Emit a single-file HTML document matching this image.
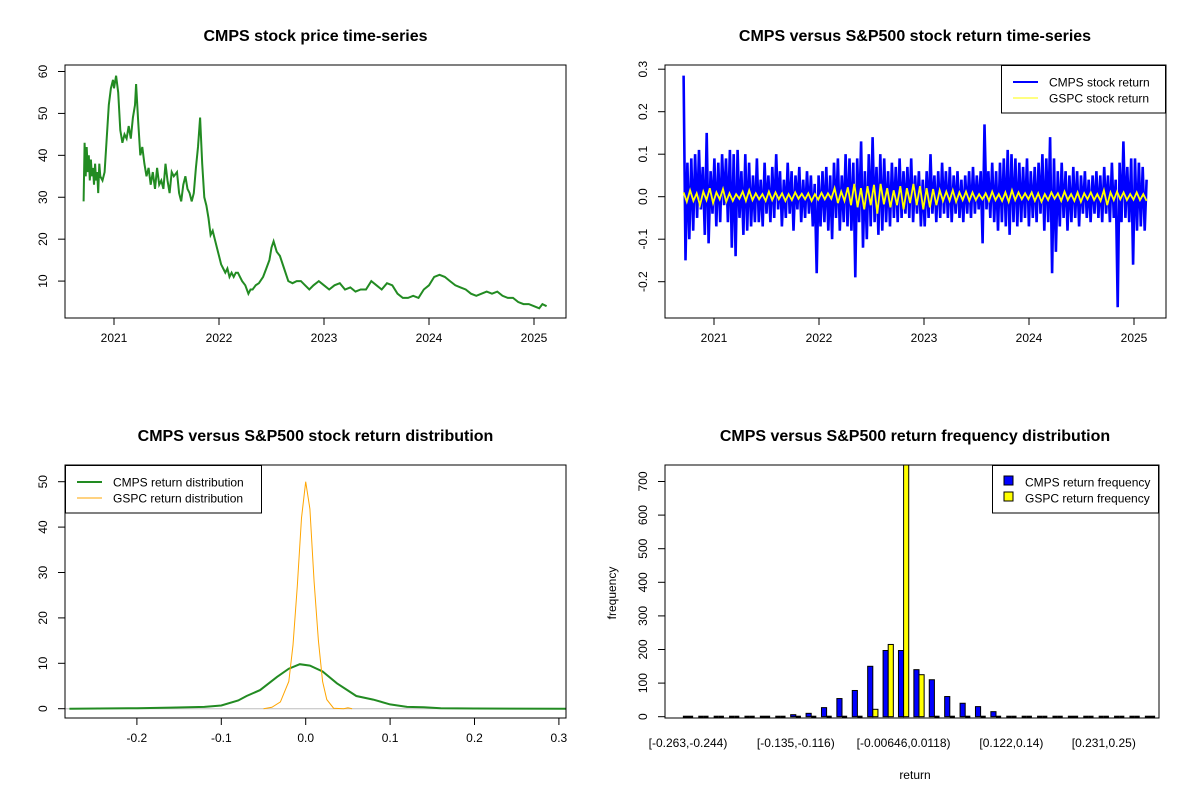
<!DOCTYPE html>
<html><head><meta charset="utf-8"><style>
html,body{margin:0;padding:0;background:#fff;}
svg{display:block;font-family:"Liberation Sans",Arial,sans-serif;}
</style></head><body>
<svg id="chart" width="1200" height="800" viewBox="0 0 1200 800" xmlns="http://www.w3.org/2000/svg"></svg>
<script>
// ---------- data ----------
const priceYears = [2020.71,2020.72,2020.73,2020.74,2020.75,2020.76,2020.77,2020.78,2020.79,2020.80,2020.81,2020.82,2020.83,2020.84,2020.85,2020.86,2020.87,2020.89,2020.91,2020.93,2020.95,2020.97,2020.99,2021.0,2021.02,2021.04,2021.06,2021.08,2021.10,2021.12,2021.14,2021.16,2021.18,2021.20,2021.21,2021.23,2021.25,2021.27,2021.29,2021.31,2021.33,2021.35,2021.37,2021.39,2021.41,2021.43,2021.45,2021.47,2021.49,2021.51,2021.53,2021.55,2021.57,2021.60,2021.62,2021.64,2021.66,2021.68,2021.70,2021.72,2021.74,2021.76,2021.78,2021.80,2021.82,2021.84,2021.86,2021.88,2021.90,2021.92,2021.94,2021.96,2021.98,2022.0,2022.02,2022.04,2022.06,2022.08,2022.10,2022.12,2022.14,2022.16,2022.18,2022.20,2022.22,2022.25,2022.28,2022.30,2022.32,2022.35,2022.38,2022.42,2022.45,2022.48,2022.50,2022.52,2022.55,2022.58,2022.62,2022.66,2022.70,2022.74,2022.78,2022.82,2022.86,2022.90,2022.95,2023.0,2023.05,2023.10,2023.15,2023.20,2023.25,2023.30,2023.35,2023.40,2023.45,2023.50,2023.55,2023.60,2023.65,2023.70,2023.75,2023.80,2023.85,2023.90,2023.95,2024.0,2024.05,2024.10,2024.15,2024.20,2024.25,2024.30,2024.35,2024.40,2024.45,2024.50,2024.55,2024.60,2024.65,2024.70,2024.75,2024.80,2024.85,2024.90,2024.95,2025.0,2025.05,2025.08,2025.12];
const priceValues = [29,43,35,42,36,40,34,39,35,37,33,38,34,36,31,38,35,34,36,44,52,56,58,56,59,55,46,43,45,44,47,44,49,52,57,48,40,42,38,35,37,33,36,32,37,33,34,32,38,34,31,36,35,36,31,29,33,35,32,31,29,31,37,42,49,38,30,28,25,21,22,20,18,16,14,13,12,13,11,12,11,12,12,11,10,9,7,8,8,9,9.5,11,13,15,18,19.5,17,16,13,10,9.5,10,10,9,8,9,10,9,8,9,9.5,8,8.5,7.5,8,8,10,9,8,9.5,9,7,6,6,6.5,6,8,9,11,11.5,11,10,9,8.5,8,7,6.5,7,7.5,7,7.5,6.5,6,6,5,4.5,4.5,4,3.5,4.5,4];
const yearTicks = [2021,2022,2023,2024,2025];

const returnStart = 2020.71, returnEnd = 2025.12;
const cmpsReturns = [0.285,-0.15,0.08,-0.1,0.09,-0.08,0.1,-0.05,0.11,-0.03,0.07,-0.09,0.15,-0.11,0.06,-0.04,0.09,-0.07,0.08,-0.06,0.1,-0.02,0.09,-0.06,0.11,-0.12,0.1,-0.14,0.11,-0.05,0.06,-0.09,0.1,-0.08,0.08,-0.07,0.05,-0.06,0.09,-0.06,0.04,-0.07,0.08,-0.04,0.05,-0.06,0.07,-0.05,0.1,-0.03,0.06,-0.07,0.04,-0.05,0.08,-0.04,0.06,-0.08,0.05,-0.03,0.07,-0.06,0.04,-0.05,0.06,-0.04,0.05,-0.07,0.03,-0.18,0.05,-0.07,0.06,-0.06,0.07,-0.08,0.05,-0.1,0.08,-0.05,0.09,-0.08,0.05,-0.06,0.1,-0.07,0.09,-0.08,0.08,-0.19,0.09,-0.06,0.13,-0.12,0.06,-0.1,0.1,-0.07,0.14,-0.06,0.07,-0.09,0.1,-0.08,0.09,-0.06,0.06,-0.07,0.08,-0.05,0.07,-0.06,0.09,-0.05,0.06,-0.04,0.07,-0.05,0.09,-0.06,0.05,-0.04,0.06,-0.07,0.04,-0.07,0.06,-0.05,0.1,-0.04,0.05,-0.06,0.06,-0.05,0.08,-0.04,0.06,-0.05,0.07,-0.06,0.05,-0.04,0.06,-0.05,0.04,-0.06,0.05,-0.04,0.06,-0.05,0.07,-0.04,0.05,-0.03,0.06,-0.11,0.17,-0.03,0.06,-0.05,0.08,-0.06,0.06,-0.08,0.08,-0.06,0.09,-0.07,0.11,-0.09,0.1,-0.06,0.09,-0.07,0.08,-0.06,0.07,-0.05,0.09,-0.07,0.06,-0.05,0.07,-0.06,0.08,-0.04,0.1,-0.08,0.09,-0.06,0.14,-0.18,0.09,-0.13,0.06,-0.07,0.08,-0.05,0.06,-0.08,0.05,-0.06,0.07,-0.05,0.06,-0.07,0.05,-0.04,0.06,-0.05,0.04,-0.06,0.05,-0.04,0.06,-0.05,0.05,-0.06,0.07,-0.04,0.05,-0.06,0.08,-0.05,0.04,-0.26,0.08,-0.06,0.13,-0.05,0.07,-0.06,0.09,-0.16,0.09,-0.08,0.08,-0.07,0.07,-0.08,0.04];
const gspcReturns = [0.01,-0.012,0.015,-0.01,0.008,-0.02,0.012,-0.008,0.02,-0.015,0.01,-0.006,0.018,-0.012,0.008,-0.01,0.006,-0.005,0.012,-0.01,0.015,-0.008,0.008,-0.006,0.006,-0.01,0.012,-0.008,0.01,-0.006,0.008,-0.01,0.006,-0.008,0.01,-0.005,0.007,-0.006,0.008,-0.01,0.006,-0.007,0.009,-0.006,0.008,-0.005,0.02,-0.015,0.012,-0.01,0.022,-0.02,0.03,-0.025,0.02,-0.03,0.025,-0.02,0.028,-0.04,0.03,-0.018,0.02,-0.025,0.015,-0.02,0.025,-0.03,0.02,-0.015,0.03,-0.02,0.025,-0.03,0.02,-0.025,0.018,-0.02,0.015,-0.01,0.012,-0.01,0.015,-0.012,0.01,-0.008,0.012,-0.01,0.01,-0.008,0.006,-0.006,0.008,-0.01,0.012,-0.008,0.006,-0.01,0.01,-0.012,0.015,-0.008,0.01,-0.006,0.008,-0.006,0.01,-0.01,0.008,-0.012,0.006,-0.008,0.01,-0.005,0.008,-0.01,0.012,-0.008,0.006,-0.01,0.01,-0.012,0.008,-0.006,0.01,-0.008,0.006,-0.01,0.015,-0.02,0.01,-0.008,0.012,-0.006,0.01,-0.008,0.006,-0.007,0.01,-0.008,0.006,-0.01];
const returnTicks = [-0.2,-0.1,0.0,0.1,0.2,0.3];

const densX = [-0.28,-0.2,-0.16,-0.14,-0.12,-0.1,-0.08,-0.07,-0.054,-0.034,-0.02,-0.007,0.005,0.02,0.037,0.05,0.06,0.08,0.1,0.12,0.14,0.16,0.2,0.31];
const cmpsDensity = [0,0.1,0.25,0.3,0.4,0.7,1.8,2.8,4.1,7.0,8.8,9.8,9.5,8.2,5.6,4.0,2.8,2.0,0.95,0.4,0.3,0.1,0.05,0];
const gspcX = [-0.05,-0.04,-0.03,-0.02,-0.015,-0.01,-0.005,0,0.005,0.01,0.015,0.02,0.025,0.033,0.045,0.05,0.055];
const gspcDensity = [0,0.3,1.5,6,14,27,42,50,44,28,15,6,2,0.1,0,0.2,0];
const densXTicks = [-0.2,-0.1,0.0,0.1,0.2,0.3];
const densYTicks = [0,10,20,30,40,50];

const binLabels = ["[-0.263,-0.244)","","","","","","","[-0.135,-0.116)","","","","","","","[-0.00646,0.0118)","","","","","","","[0.122,0.14)","","","","","","[0.231,0.25)","","",""];
const cmpsFreq = [3,0,0,3,3,3,3,6,10,27,54,78,150,197,197,140,110,60,40,30,15,3,3,3,1,1,1,1,1,1,1];
const gspcFreq = [0,0,0,0,0,0,0,0,0,0,0,3,22,215,780,125,3,3,0,0,0,0,0,0,0,0,0,0,0,0,0];
const freqTicks = [0,100,200,300,400,500,600,700];

// ---------- helpers ----------
const svg = document.getElementById('chart');
const NS = 'http://www.w3.org/2000/svg';
function mk(tag, attrs, parent){
  const e = document.createElementNS(NS, tag);
  for (const k in attrs) e.setAttribute(k, attrs[k]);
  (parent||svg).appendChild(e);
  return e;
}
function txt(str, x, y, size, extra, parent){
  const t = mk('text', Object.assign({x:x, y:y, 'font-size':size, 'text-anchor':'middle', fill:'#000'}, extra||{}), parent);
  t.textContent = str;
  return t;
}
function lin(d0,d1,r0,r1){ return v => r0 + (v-d0)/(d1-d0)*(r1-r0); }
function box(x0,y0,x1,y1,name){
  const r = mk('rect',{x:x0,y:y0,width:x1-x0,height:y1-y0,fill:'none',stroke:'#000','stroke-width':1});
  
  
}
function xAxis(ticks, sx, yb, labelFn, name){
  const g = mk('g',{});
  
  
  ticks.forEach((v,i)=>{
    const x = sx(v);
    mk('line',{x1:x,y1:yb,x2:x,y2:yb+7,stroke:'#000'},g);
    const l = labelFn(v,i);
    if (l!=='') txt(l, x, yb+24, 12, {}, g);
  });
}
function yAxis(ticks, sy, xl, name, fmt){
  const g = mk('g',{});
  
  
  mk('line',{x1:xl,y1:sy(ticks[0]),x2:xl,y2:sy(ticks[ticks.length-1]),stroke:'#000'},g);
  ticks.forEach(v=>{
    const y = sy(v);
    mk('line',{x1:xl-7,y1:y,x2:xl,y2:y,stroke:'#000'},g);
    const s = fmt ? fmt(v) : String(v);
    txt(s, xl-18, y, 12, {transform:`rotate(-90 ${xl-18} ${y})`}, g);
  });
}
function pathFrom(xs, ys, sx, sy){
  return xs.map((v,i)=>(i?'L':'M')+sx(v).toFixed(1)+','+sy(ys[i]).toFixed(1)).join('');
}

// ---------- panel 1: price ----------
(function(){
  const sx = lin(2021,2025,114,534), sy = lin(0,60,323,71.5);
  txt('CMPS stock price time-series', 315.5, 41, 16, {'font-weight':'bold',});
  const p = mk('path',{d:pathFrom(priceYears, priceValues, sx, sy), fill:'none', stroke:'#228B22','stroke-width':2});
  
  
  box(65,65,566,318,'price-plot-box');
  xAxis(yearTicks, sx, 318, v=>String(v), 'price-x-axis');
  yAxis([10,20,30,40,50,60], sy, 65, 'price-y-axis');
})();

// ---------- panel 2: returns ----------
(function(){
  const sx = lin(2021,2025,714,1134), sy = lin(0,0.1,196.7,154.2);
  txt('CMPS versus S&P500 stock return time-series', 915, 41, 16, {'font-weight':'bold',});
  const n = cmpsReturns.length;
  const cx = cmpsReturns.map((v,i)=>returnStart + i*(returnEnd-returnStart)/(n-1));
  const p = mk('path',{d:pathFrom(cx, cmpsReturns, sx, sy), fill:'none', stroke:'#0000FF','stroke-width':2.6});
  
  
  const m = gspcReturns.length;
  const gx = gspcReturns.map((v,i)=>returnStart + i*(returnEnd-returnStart)/(m-1));
  const q = mk('path',{d:pathFrom(gx, gspcReturns, sx, sy), fill:'none', stroke:'#FFFF00','stroke-width':1.8});
  
  
  box(665,65,1166,318,'return-plot-box');
  xAxis(yearTicks, sx, 318, v=>String(v), 'return-x-axis');
  yAxis(returnTicks, sy, 665, 'return-y-axis', v=>v.toFixed(1));
  const lg = mk('g',{});
  
  
  mk('rect',{x:1001.5,y:65.5,width:164,height:47.5,fill:'#fff',stroke:'#000'},lg);
  mk('line',{x1:1013,y1:82,x2:1038,y2:82,stroke:'#0000FF','stroke-width':2},lg);
  mk('line',{x1:1013,y1:98,x2:1038,y2:98,stroke:'#FFFF00','stroke-width':1},lg);
  txt('CMPS stock return', 1049, 86.5, 12, {'text-anchor':'start'}, lg);
  txt('GSPC stock return', 1049, 102.5, 12, {'text-anchor':'start'}, lg);
})();

// ---------- panel 3: density ----------
(function(){
  const sx = lin(0,0.1,305.7,390.1), sy = lin(0,10,708.7,663.3);
  txt('CMPS versus S&P500 stock return distribution', 315.5, 441, 16, {'font-weight':'bold',});
  mk('line',{x1:65,y1:sy(0),x2:566,y2:sy(0),stroke:'#bebebe'});
  const cp = mk('clipPath',{id:'c3'}); mk('rect',{x:65,y:465,width:501,height:253},cp);
  const p = mk('path',{d:pathFrom(densX, cmpsDensity, sx, sy), fill:'none', stroke:'#228B22','stroke-width':2,'clip-path':'url(#c3)'});
  
  
  const q = mk('path',{d:pathFrom(gspcX, gspcDensity, sx, sy), fill:'none', stroke:'#FFA500','stroke-width':1});
  
  
  box(65,465,566,718,'density-plot-box');
  xAxis(densXTicks, sx, 718, v=>v.toFixed(1), 'density-x-axis');
  yAxis(densYTicks, sy, 65, 'density-y-axis');
  const lg = mk('g',{});
  
  
  mk('rect',{x:65.5,y:465.5,width:196,height:47.5,fill:'#fff',stroke:'#000'},lg);
  mk('line',{x1:77,y1:482,x2:102,y2:482,stroke:'#228B22','stroke-width':2},lg);
  mk('line',{x1:77,y1:498,x2:102,y2:498,stroke:'#FFA500','stroke-width':1},lg);
  txt('CMPS return distribution', 113, 486.5, 12, {'text-anchor':'start'}, lg);
  txt('GSPC return distribution', 113, 502.5, 12, {'text-anchor':'start'}, lg);
})();

// ---------- panel 4: histogram ----------
(function(){
  const unit = 15.4/3;
  const x0 = 688 - 2*unit;
  const sxu = u => x0 + u*unit;
  const sy = lin(0,100,716.7,683.1);
  txt('CMPS versus S&P500 return frequency distribution', 915, 441, 16, {'font-weight':'bold',});
  const cp = mk('clipPath',{id:'c4'}); mk('rect',{x:665,y:465,width:494,height:253},cp);
  const g = mk('g',{'clip-path':'url(#c4)'});
  function bar(v, u, color, name){
    const h = sy(0)-sy(v);
    if (h < 1.5) {
      const l = mk('line',{x1:sxu(u),y1:sy(0),x2:sxu(u)+unit,y2:sy(0),stroke:'#000','stroke-width':2},g);
      
      
    } else {
      const b = mk('rect',{x:sxu(u),y:sy(v),width:unit,height:h,fill:color,stroke:'#000','stroke-width':1},g);
      
      
    }
  }
  cmpsFreq.forEach((v,i)=>bar(v, 3*i+1, '#0000FF', 'cmps-freq-bar'));
  gspcFreq.forEach((v,i)=>bar(v, 3*i+2, '#FFFF00', 'gspc-freq-bar'));
  box(665,465,1159,718,'frequency-plot-box');
  const xl = mk('g',{});
  
  
  binLabels.forEach((l,i)=>{ if (l) txt(l, sxu(3*i+2), 747, 12, {}, xl); });
  yAxis(freqTicks, sy, 665, 'frequency-y-axis');
  txt('return', 915, 779, 12, {});
  txt('frequency', 616, 593, 12, {transform:'rotate(-90 616 593)',});
  const lg = mk('g',{});
  
  
  mk('rect',{x:992.5,y:465.5,width:166,height:47.5,fill:'#fff',stroke:'#000'},lg);
  mk('rect',{x:1004,y:476,width:9,height:9,fill:'#0000FF',stroke:'#000'},lg);
  mk('rect',{x:1004,y:492,width:9,height:9,fill:'#FFFF00',stroke:'#000'},lg);
  txt('CMPS return frequency', 1025, 486.5, 12, {'text-anchor':'start'}, lg);
  txt('GSPC return frequency', 1025, 502.5, 12, {'text-anchor':'start'}, lg);
})();
</script>
</body></html>
